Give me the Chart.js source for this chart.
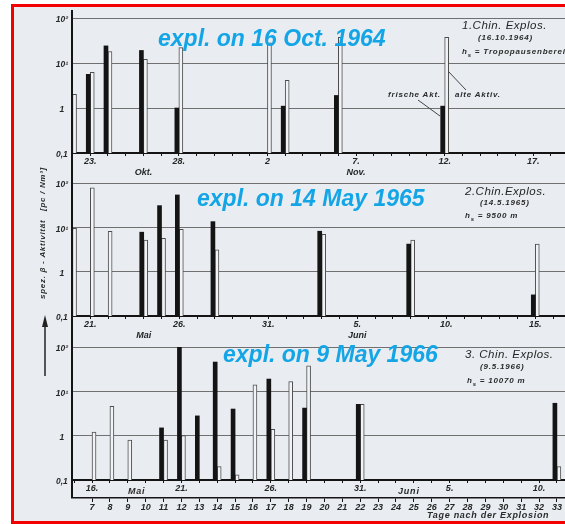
<!DOCTYPE html>
<html lang="de">
<head>
<meta charset="utf-8">
<title>Spezifische β-Aktivität nach chinesischen Kernexplosionen</title>
<script src="https://cdn.jsdelivr.net/npm/chart.js@4.4.1/dist/chart.umd.min.js"></script>
<style>
  html, body { margin: 0; padding: 0; width: 565px; height: 524px; overflow: hidden; background: #fff; }
  #sheet { position: absolute; left: 11px; top: 4px; width: 580px; height: 514px;
           border: 3px solid #f40000; background: #e9edf1; }
  canvas { position: absolute; left: 0; }
  .note { position: absolute; font-family: 'Liberation Sans', Arial, sans-serif; font-style: italic;
          font-weight: bold; color: #2b2b2b; white-space: nowrap; line-height: 1; }
  .head { font-weight: normal; font-size: 11.5px; letter-spacing: 0.5px; color: #262626; }
  .small { font-size: 8px; letter-spacing: 0.8px; }
  .blue { position: absolute; font-family: 'Liberation Sans', Arial, sans-serif; font-style: italic;
          font-weight: bold; font-size: 23px; line-height: 23px; color: #14a5e6; white-space: nowrap; }
  #ytitle { position: absolute; left: -37px; top: 228px; width: 160px; height: 10px; line-height: 10px;
            text-align: center; transform: rotate(-90deg); font-size: 8px; letter-spacing: 0.7px; }
</style>
</head>
<body>
<div id="sheet"></div>
<canvas id="p1964" width="580" height="170" style="top:6px"></canvas>
<canvas id="p1965" width="580" height="166" style="top:174px"></canvas>
<canvas id="p1966" width="580" height="186" style="top:338px"></canvas>

<svg width="565" height="524" style="position:absolute;left:0;top:0">
  <line x1="418" y1="100" x2="440" y2="116" stroke="#444" stroke-width="1"/>
  <line x1="448" y1="71" x2="466" y2="90" stroke="#444" stroke-width="1"/>
  <line x1="45" y1="325" x2="45" y2="376" stroke="#222" stroke-width="1.5"/>
  <polygon points="45,315 42,327 48,327" fill="#222"/>
</svg>

<div class="blue" style="left:158px;top:27px">expl. on 16 Oct. 1964</div>
<div class="blue" style="left:197px;top:187px">expl. on 14 May 1965</div>
<div class="blue" style="left:223px;top:343px">expl. on 9 May 1966</div>

<div class="note head" style="left:462px;top:20px">1.Chin. Explos.</div>
<div class="note small" style="left:478px;top:34px">(16.10.1964)</div>
<div class="note small" style="left:462px;top:48px">h<sub style="font-size:6px">s</sub> = Tropopausenbereich</div>
<div class="note small" style="left:388px;top:91px">frische Akt.</div>
<div class="note small" style="left:455px;top:91px">alte Aktiv.</div>

<div class="note head" style="left:465px;top:186px">2.Chin.Explos.</div>
<div class="note small" style="left:480px;top:199px">(14.5.1965)</div>
<div class="note small" style="left:465px;top:212px">h<sub style="font-size:6px">s</sub> = 9500 m</div>

<div class="note head" style="left:465px;top:349px">3. Chin. Explos.</div>
<div class="note small" style="left:480px;top:363px">(9.5.1966)</div>
<div class="note small" style="left:467px;top:377px">h<sub style="font-size:6px">s</sub> = 10070 m</div>

<div class="note small" style="left:128px;top:487px;font-size:9px">Mai</div>
<div class="note small" style="left:398px;top:487px;font-size:9px">Juni</div>
<div class="note small" style="left:427px;top:511px;font-size:9px;letter-spacing:0.7px">Tage nach der Explosion</div>

<div id="ytitle" class="note">spez. β - Aktivität&nbsp;&nbsp;&nbsp;[pc / Nm³]</div>

<script>
// Specific beta activity of fresh and old fission products, by day after the explosion

// 1. Chin. Explosion, 16.10.1964
const days1964  = [6, 7, 8, 10, 12, 17, 18, 21, 27, 34];
const fresh1964 = [null, 5.6, 24, 19, 1.0, null, 1.1, 1.9, 1.1, null];
const old1964   = [2.0, 6.2, 18, 12, 22, 28, 4.1, 37, 37, 1.0];
const dateTicks1964  = [7, 10, 12, 17, 22, 27, 32];
const dateLabels1964 = [['23.'], ['', 'Okt.'], ['28.'], ['2'], ['7.', 'Nov.'], ['12.'], ['17.']];

// 2. Chin. Explosion, 14.5.1965
const days1965  = [6, 7, 8, 10, 11, 12, 14, 20, 25, 32];
const fresh1965 = [null, null, null, 7.8, 31, 54, 13.5, 8.2, 4.2, 0.3];
const old1965   = [9.5, 78, 8.2, 5.2, 5.7, 9.1, 3.1, 7.0, 5.2, 4.2];
const dateTicks1965  = [7, 10, 12, 17, 22, 27, 32];
const dateLabels1965 = [['21.'], ['', 'Mai'], ['26.'], ['31.'], ['5.', 'Juni'], ['10.'], ['15.']];

// 3. Chin. Explosion, 9.5.1966
const days1966  = [7, 8, 9, 11, 12, 13, 14, 15, 16, 17, 18, 19, 22, 33];
const fresh1966 = [null, null, null, 1.5, 100, 2.8, 46, 4.0, null, 19, null, 4.2, 5.1, 5.4];
const old1966   = [1.2, 4.6, 0.8, 0.8, 1.0, null, 0.2, 0.13, 14, 1.4, 16.6, 38, 5.1, 0.2];
const dateTicks1966  = [7, 12, 17, 22, 27, 32];
const dateLabels1966 = [['16.'], ['21.'], ['26.'], ['31.'], ['5.'], ['10.']];
const dayNumbers1966 = [7, 8, 9, 10, 11, 12, 13, 14, 15, 16, 17, 18, 19, 20,
                        21, 22, 23, 24, 25, 26, 27, 28, 29, 30, 31, 32, 33];

// log axis decades
const decadeTicks  = [0.1, 1, 10, 100];
const decadeLabels = ['0,1', '1', '10¹', '10²'];

const FONT = "'Liberation Sans', Arial, Helvetica, sans-serif";
const INK = '#141414';
const GRID = '#707070';
const TEXT = '#262626';
const OPEN_FILL = '#f1f3f6';
const OPEN_EDGE = '#4d4d4d';
const tickFont = { family: FONT, size: 9, style: 'italic', weight: 'bold' };

// continues the y axis line outside the plot area
const spine = {
  id: 'spine',
  afterDraw(chart, args, opts) {
    const { ctx, chartArea } = chart;
    const bottom = opts.toScale ? chart.scales[opts.toScale].top : chart.height;
    ctx.save();
    ctx.strokeStyle = INK;
    ctx.lineWidth = 2;
    ctx.beginPath();
    ctx.moveTo(chartArea.left, opts.from || 0);
    ctx.lineTo(chartArea.left, bottom);
    ctx.stroke();
    ctx.restore();
  }
};

function points(days, values) {
  return days.map((d, i) => ({ x: d, y: values[i] })).filter(p => p.y !== null);
}

function dayRange(min, max) {
  const out = [];
  for (let d = Math.ceil(min); d <= Math.floor(max); d++) out.push({ value: d });
  return out;
}

function dateAxis(min, max, ticks, labels, height) {
  return {
    type: 'linear', position: 'bottom', weight: 0, min, max, offset: false,
    afterBuildTicks: s => { s.ticks = dayRange(min, max); },
    afterFit: s => { s.height = height; },
    grid: { offset: false, drawOnChartArea: false, drawTicks: true, tickLength: 3, color: INK, lineWidth: 1 },
    border: { display: true, color: INK, width: 2 },
    ticks: {
      autoSkip: false, maxRotation: 0, minRotation: 0, padding: 0, color: TEXT, font: tickFont,
      callback: v => { const i = ticks.indexOf(v); return i < 0 ? '' : labels[i]; }
    }
  };
}

function panel(id, cfg) {
  const scales = {
    x: dateAxis(cfg.min, cfg.max, cfg.dateTicks, cfg.dateLabels, cfg.xHeight),
    y: {
      type: 'logarithmic', min: 0.1, max: 100,
      afterBuildTicks: s => { s.ticks = decadeTicks.map(v => ({ value: v, major: true })); },
      afterFit: s => { s.width = 72; },
      grid: {
        drawTicks: false, lineWidth: 1,
        color: c => (c.tick && c.tick.value === 0.1) ? 'rgba(0,0,0,0)' : GRID
      },
      border: { display: true, color: INK, width: 2 },
      ticks: {
        padding: 4, crossAlign: 'center', labelOffset: 2, color: TEXT,
        font: { family: FONT, size: 8.5, style: 'italic', weight: 'bold' },
        callback: v => { const i = decadeTicks.indexOf(v); return i < 0 ? '' : decadeLabels[i]; }
      }
    }
  };
  if (cfg.dayNumbers) {
    scales.x2 = {
      type: 'linear', position: 'bottom', weight: 1, min: cfg.min, max: cfg.max, offset: false,
      afterBuildTicks: s => { s.ticks = cfg.dayNumbers.map(v => ({ value: v })); },
      afterFit: s => { s.height = 26; },
      grid: { offset: false, drawOnChartArea: false, drawTicks: true, tickLength: 4, color: INK, lineWidth: 1 },
      border: { display: true, color: INK, width: 1.5 },
      ticks: {
        autoSkip: false, maxRotation: 0, minRotation: 0, padding: 0, color: TEXT, font: tickFont,
        callback: v => String(v)
      }
    };
  }
  return new Chart(document.getElementById(id), {
    type: 'bar',
    data: {
      datasets: [
        { label: 'frische Akt.', data: points(cfg.days, cfg.fresh), xAxisID: 'x', yAxisID: 'y',
          backgroundColor: INK, borderWidth: 0, barThickness: 4 },
        { label: 'alte Aktiv.', data: points(cfg.days, cfg.old), xAxisID: 'x', yAxisID: 'y',
          backgroundColor: OPEN_FILL, borderColor: OPEN_EDGE, borderWidth: 1, barThickness: 4 }
      ]
    },
    options: {
      responsive: false,
      animation: false,
      events: [],
      layout: { padding: { top: cfg.padTop, right: 2, left: 0, bottom: 0 } },
      scales,
      plugins: {
        legend: { display: false },
        tooltip: { enabled: false },
        spine: { from: cfg.spineFrom || 0, toScale: cfg.dayNumbers ? 'x2' : null }
      }
    },
    plugins: [spine]
  });
}

panel('p1964', {
  days: days1964, fresh: fresh1964, old: old1964,
  dateTicks: dateTicks1964, dateLabels: dateLabels1964,
  min: 5.97, max: 34.525, padTop: 12, xHeight: 23, spineFrom: 4
});

panel('p1965', {
  days: days1965, fresh: fresh1965, old: old1965,
  dateTicks: dateTicks1965, dateLabels: dateLabels1965,
  min: 5.97, max: 34.40, padTop: 6, xHeight: 24
});

panel('p1966', {
  days: days1966, fresh: fresh1966, old: old1966,
  dateTicks: dateTicks1966, dateLabels: dateLabels1966, dayNumbers: dayNumbers1966,
  min: 5.88, max: 34.18, padTop: 6, xHeight: 18
});
</script>
</body>
</html>
